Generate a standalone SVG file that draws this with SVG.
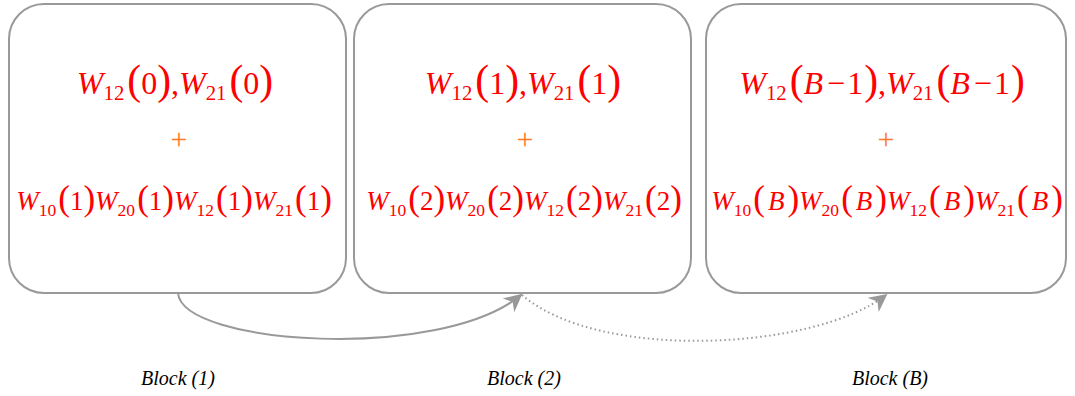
<svg xmlns="http://www.w3.org/2000/svg" width="1075" height="396" viewBox="0 0 1075 396">
<style>
.box{fill:#fff;stroke:#999;stroke-width:2}
.eq{font-family:'Liberation Serif','Times New Roman',serif;fill:#ff0000;text-anchor:middle}
.l1{font-size:32px}
.l2{font-size:27px}
.i{font-style:italic}
.sub{font-size:0.65em}
.par{font-size:1.3em}
.plus{font-family:'Liberation Serif','Times New Roman',serif;fill:#ff7a26;font-size:30px;text-anchor:middle}
.lbl{font-family:'Liberation Serif','Times New Roman',serif;font-style:italic;font-size:20px;fill:#000;text-anchor:middle}
.conn{fill:none;stroke:#999;stroke-width:2}
.dot{fill:none;stroke:#999;stroke-width:2;stroke-dasharray:1.5 3}
</style>
<defs>
<marker id="ah" viewBox="0 0 10 10" refX="9" refY="5" markerWidth="18" markerHeight="18" markerUnits="userSpaceOnUse" orient="auto">
<path d="M0,0 L10,5 L0,10 L3,5 z" fill="#999"/>
</marker>
</defs>
<g id="node1">
<rect class="box" x="9" y="4" width="337" height="289" rx="35"/>
<text class="eq l1" x="175" y="94"><tspan class="i">W</tspan><tspan class="sub" dy="6">12</tspan><tspan class="par" dy="-6" dx="3">(</tspan>0<tspan class="par">)</tspan>,<tspan class="i">W</tspan><tspan class="sub" dy="6">21</tspan><tspan class="par" dy="-6" dx="3">(</tspan>0<tspan class="par">)</tspan></text>
<text class="plus" x="179" y="149">+</text>
<text class="eq l2" x="174" y="210"><tspan class="i">W</tspan><tspan class="sub" dy="6">10</tspan><tspan class="par" dy="-6" dx="2">(</tspan>1<tspan class="par">)</tspan><tspan class="i">W</tspan><tspan class="sub" dy="6">20</tspan><tspan class="par" dy="-6" dx="2">(</tspan>1<tspan class="par">)</tspan><tspan class="i">W</tspan><tspan class="sub" dy="6">12</tspan><tspan class="par" dy="-6" dx="2">(</tspan>1<tspan class="par">)</tspan><tspan class="i">W</tspan><tspan class="sub" dy="6">21</tspan><tspan class="par" dy="-6" dx="2">(</tspan>1<tspan class="par">)</tspan></text>
</g>
<g id="node2">
<rect class="box" x="354" y="4" width="337" height="289" rx="35"/>
<text class="eq l1" x="523" y="94"><tspan class="i">W</tspan><tspan class="sub" dy="6">12</tspan><tspan class="par" dy="-6" dx="3">(</tspan>1<tspan class="par">)</tspan>,<tspan class="i">W</tspan><tspan class="sub" dy="6">21</tspan><tspan class="par" dy="-6" dx="3">(</tspan>1<tspan class="par">)</tspan></text>
<text class="plus" x="525" y="149">+</text>
<text class="eq l2" x="524" y="210"><tspan class="i">W</tspan><tspan class="sub" dy="6">10</tspan><tspan class="par" dy="-6" dx="2">(</tspan>2<tspan class="par">)</tspan><tspan class="i">W</tspan><tspan class="sub" dy="6">20</tspan><tspan class="par" dy="-6" dx="2">(</tspan>2<tspan class="par">)</tspan><tspan class="i">W</tspan><tspan class="sub" dy="6">12</tspan><tspan class="par" dy="-6" dx="2">(</tspan>2<tspan class="par">)</tspan><tspan class="i">W</tspan><tspan class="sub" dy="6">21</tspan><tspan class="par" dy="-6" dx="2">(</tspan>2<tspan class="par">)</tspan></text>
</g>
<g id="node3">
<rect class="box" x="706" y="4" width="360" height="289" rx="35"/>
<text class="eq l1" x="882" y="94"><tspan class="i">W</tspan><tspan class="sub" dy="6">12</tspan><tspan class="par" dy="-6" dx="3">(</tspan><tspan class="i">B</tspan><tspan dx="4">−</tspan><tspan dx="2">1</tspan><tspan class="par" dx="1">)</tspan>,<tspan class="i">W</tspan><tspan class="sub" dy="6">21</tspan><tspan class="par" dy="-6" dx="3">(</tspan><tspan class="i">B</tspan><tspan dx="4">−</tspan><tspan dx="2">1</tspan><tspan class="par" dx="1">)</tspan></text>
<text class="plus" x="886" y="149">+</text>
<text class="eq l2" x="887" y="210"><tspan class="i">W</tspan><tspan class="sub" dy="6">10</tspan><tspan class="par" dy="-6" dx="2">(</tspan><tspan class="i" dx="3">B</tspan><tspan class="par" dx="3">)</tspan><tspan class="i">W</tspan><tspan class="sub" dy="6">20</tspan><tspan class="par" dy="-6" dx="2">(</tspan><tspan class="i" dx="3">B</tspan><tspan class="par" dx="3">)</tspan><tspan class="i">W</tspan><tspan class="sub" dy="6">12</tspan><tspan class="par" dy="-6" dx="2">(</tspan><tspan class="i" dx="3">B</tspan><tspan class="par" dx="3">)</tspan><tspan class="i">W</tspan><tspan class="sub" dy="6">21</tspan><tspan class="par" dy="-6" dx="2">(</tspan><tspan class="i" dx="3">B</tspan><tspan class="par" dx="3">)</tspan></text>
</g>
<g id="connectors">
<path class="conn" d="M178,293 C182,345 440,362 521,295" marker-end="url(#ah)"/>
<path class="dot" d="M522,295 C600,362 815,350 886,295" marker-end="url(#ah)"/>
</g>
<g id="labels">
<text class="lbl" x="178" y="385">Block (1)</text>
<text class="lbl" x="524" y="385">Block (2)</text>
<text class="lbl" x="890" y="385">Block (B)</text>
</g>
</svg>
